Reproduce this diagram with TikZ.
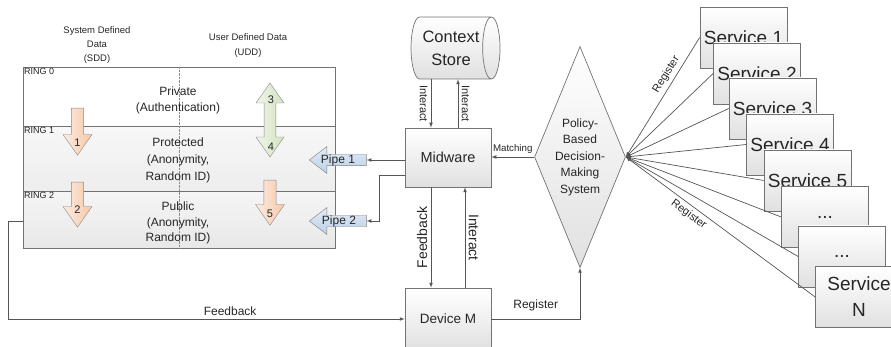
\documentclass[tikz,border=0pt]{standalone}
\usepackage{fontspec}
\setmainfont{Liberation Sans}
\usetikzlibrary{shapes.geometric,shapes.arrows}
\definecolor{linegray}{RGB}{85,85,85}
\definecolor{boxgray}{RGB}{115,115,115}
\definecolor{peach}{RGB}{246,200,168}
\definecolor{sage}{RGB}{212,226,190}
\definecolor{pipeblue}{RGB}{185,208,232}
\tikzstyle{conn} = [->,>=latex,draw=linegray,line width=0.7pt]
\tikzstyle{box} = [draw=boxgray,rectangle,top color=white,bottom color=black!12,line width=0.7pt,align=center]
\tikzstyle{ringbox} = [draw=boxgray,rectangle,line width=0.8pt,anchor=north west,minimum width=312pt,inner sep=0pt]
\tikzstyle{svc} = [box,minimum width=87pt,minimum height=61pt,inner sep=0pt,font=\fontsize{19}{26}\selectfont]
\tikzstyle{downarrow} = [draw=black!45,single arrow,shape border rotate=270,single arrow tip angle=70,minimum width=29pt,inner sep=5pt,anchor=tail,left color=peach!35,right color=peach]
\tikzstyle{pipearrow} = [draw=black!50,single arrow,shape border rotate=180,single arrow tip angle=75,minimum width=27pt,minimum height=57pt,inner sep=5pt,anchor=tip,top color=pipeblue!40,bottom color=pipeblue]
\tikzstyle{num} = [font=\fontsize{11}{12}\selectfont,inner sep=0pt]

\begin{document}
\begin{tikzpicture}[x=1pt,y=-1pt,text=black!85]
\useasboundingbox (0,0) rectangle (891,347);
\clip (0,0) rectangle (891,347);

\node (ring0) [ringbox, minimum height=59pt, fill=white] at (23,67) {};
\node (ring1) [ringbox, minimum height=65pt, top color=black!3, bottom color=black!7] at (23,126) {};
\node (ring2) [ringbox, minimum height=57pt, top color=black!4, bottom color=black!9] at (23,191) {};
\draw [densely dotted, black!45] (ring0.north) -- (ring2.south);
\node (r0) [anchor=north west, inner sep=1pt, font=\fontsize{9}{10}\selectfont] at (ring0.north west) {RING 0};
\node (r1) [anchor=north west, inner sep=1pt, font=\fontsize{9}{10}\selectfont] at (ring1.north west) {RING 1};
\node (r2) [anchor=north west, inner sep=1pt, font=\fontsize{9}{10}\selectfont] at (ring2.north west) {RING 2};

\node (sdd) [align=center, font=\fontsize{9.5}{14}\selectfont] at (97,45) {System Defined\\Data\\(SDD)};
\node (udd) [align=center, font=\fontsize{9.5}{15}\selectfont] at (248,46) {User Defined Data\\(UDD)};
\node (private) [align=center, font=\fontsize{12}{16}\selectfont] at (178,100) {Private\\(Authentication)};
\node (protected) [align=center, font=\fontsize{12}{17}\selectfont] at (178,160) {Protected\\(Anonymity,\\Random ID)};
\node (public) [align=center, font=\fontsize{12}{15.5}\selectfont] at (178,223) {Public\\(Anonymity,\\Random ID)};

\node (a1) [downarrow, minimum height=47pt] at (77.5,108) {};
\node (a2) [downarrow, minimum height=45pt] at (77.5,182) {};
\node (a5) [downarrow, minimum height=45pt] at (270,180) {};
\node (a34) [draw=black!45, double arrow, shape border rotate=90, double arrow tip angle=70, minimum width=28pt, minimum height=74pt, inner sep=5pt, left color=sage!35, right color=sage] at (270,120) {};
\node (n1) [num] at (77.5,143) {1};
\node (n2) [num] at (77.5,210) {2};
\node (n3) [num] at (271,100) {3};
\node (n4) [num] at (271,147) {4};
\node (n5) [num] at (270,214) {5};

\node (p1) [pipearrow] at (309,160) {};
\node (p2) [pipearrow] at (309,221) {};
\node (p1lbl) [font=\fontsize{12}{13}\selectfont, inner sep=0pt] at (338,160) {Pipe 1};
\node (p2lbl) [font=\fontsize{12}{13}\selectfont, inner sep=0pt] at (339,221) {Pipe 2};

\node (cstore) [box, cylinder, aspect=0.5, minimum width=62pt, minimum height=89pt, inner sep=0pt, font=\fontsize{16.5}{23}\selectfont] at (451,48) {Context\\Store};
\node (mw) [box, minimum width=86pt, minimum height=59pt, font=\fontsize{14.5}{16}\selectfont] at (448,157.5) {Midware};
\node (dm) [box, minimum width=86pt, minimum height=62pt, font=\fontsize{13.5}{16}\selectfont] at (448,319) {Device M};
\node (pbd) [box, diamond, shape aspect=0.41, minimum width=91pt, minimum height=221pt, inner sep=0pt, font=\fontsize{12}{16.5}\selectfont] at (580,157) {Policy-\\Based\\Decision-\\Making\\System};

\node (s1) [svc] at (743.5,37.5) {Service 1};
\node (s2) [svc] at (757,73.5) {Service 2};
\node (s3) [svc] at (772.5,108.5) {Service 3};
\node (s4) [svc] at (790,144.5) {Service 4};
\node (s5) [svc] at (807.5,180.5) {Service 5};
\node (s6) [svc] at (825,217) {...};
\node (s7) [svc] at (842,256.5) {...};
\node (sN) [svc] at (859,297) {Service\\N};

\draw [conn] ([xshift=-17pt]mw.north |- cstore.south) -- ([xshift=-17pt]mw.north) node [midway, rotate=-90, anchor=north, font=\fontsize{11}{12}\selectfont] {Interact};
\draw [conn] ([xshift=10pt]mw.north) -- ([xshift=10pt]mw.north |- cstore.south) node [midway, rotate=-90, anchor=south, font=\fontsize{11}{12}\selectfont] {Interact};
\draw [conn] (p1.tail -| mw.west) -- (p1.tail);
\draw [conn] ([yshift=-18pt]mw.west) -- ++(-25,0) |- (p2.tail);
\draw [conn] (pbd.west) -- (mw.east |- pbd.west) node [midway, above, font=\fontsize{9.7}{11}\selectfont] {Matching};
\draw [conn] ([xshift=-17pt]mw.south) -- ([xshift=-17pt]dm.north) node [midway, rotate=90, anchor=south, font=\fontsize{14}{15}\selectfont] {Feedback};
\draw [conn] ([xshift=17pt]dm.north) -- ([xshift=17pt]mw.south) node [midway, rotate=-90, anchor=south, font=\fontsize{14}{15}\selectfont] {Interact};
\draw [conn] ([yshift=-1.5pt]ring2.west) -- ++(-15,0) |- (dm.west) node [pos=0.78, above, font=\fontsize{12}{13}\selectfont] {Feedback};
\draw [conn] (dm.east) -| (pbd.south) node [pos=0.25, above, yshift=4pt, font=\fontsize{12}{13}\selectfont] {Register};

\draw [conn] (s1.west) -- (pbd.east) node [pos=0.35, above, sloped, font=\fontsize{11}{12}\selectfont] {Register};
\draw [conn] (s2.west) -- (pbd.east);
\draw [conn] (s3.west) -- (pbd.east);
\draw [conn] (s4.west) -- (pbd.east);
\draw [conn] (s5.west) -- (pbd.east);
\draw [conn] (s6.west) -- (pbd.east);
\draw [conn] (s7.west) -- (pbd.east);
\draw [conn] (sN.west) -- (pbd.east) node [pos=0.64, below, sloped, font=\fontsize{11}{12}\selectfont] {Register};

\end{tikzpicture}
\end{document}
